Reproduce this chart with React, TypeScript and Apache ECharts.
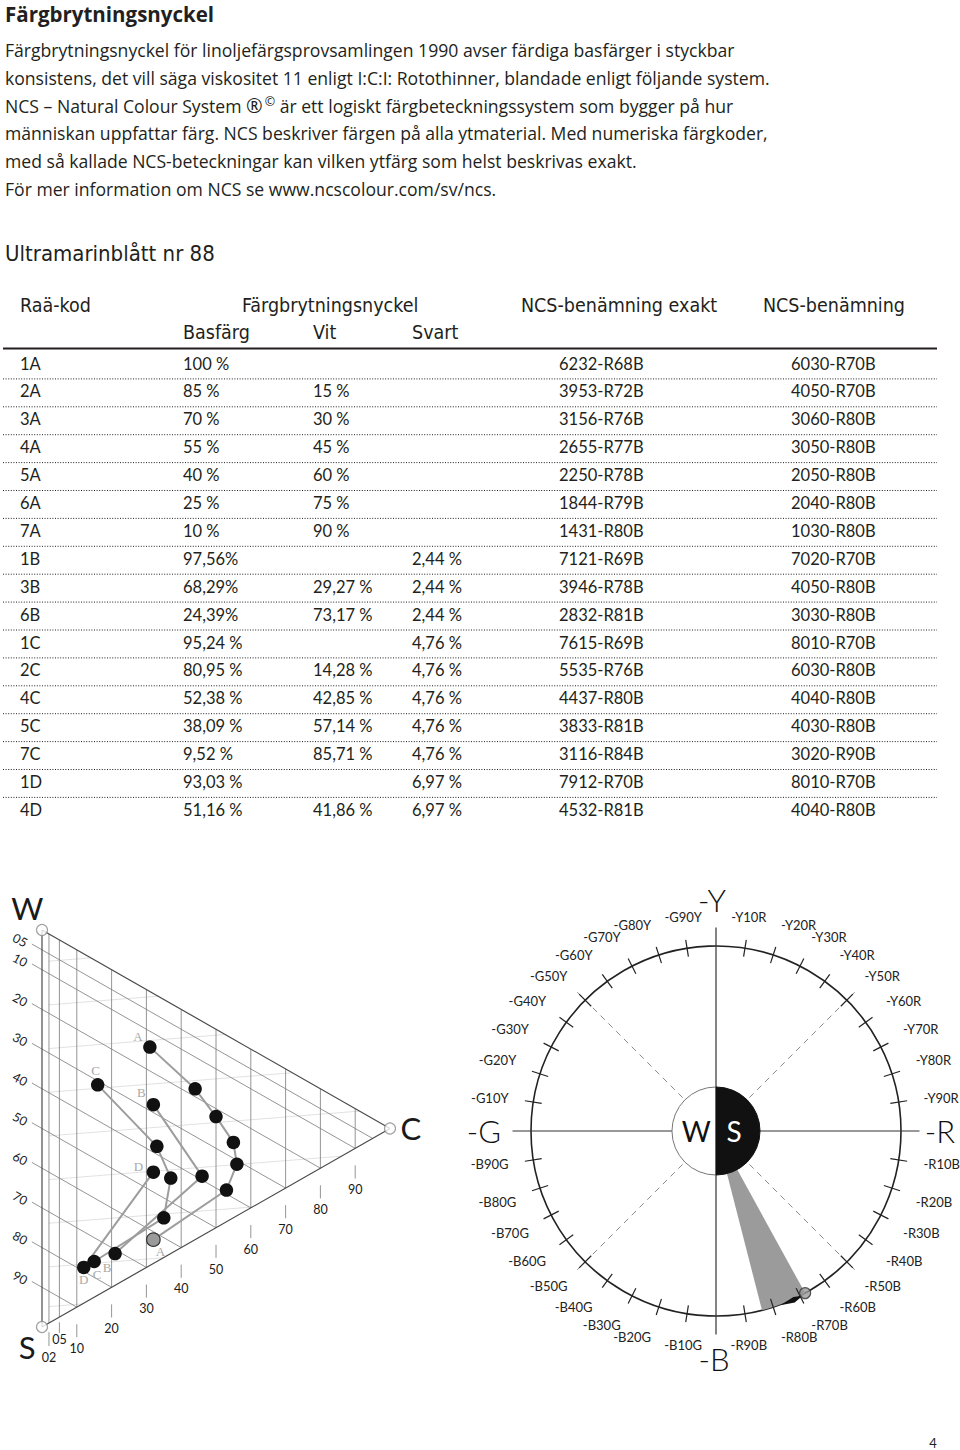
import React, { useEffect, useRef } from 'react';
import * as echarts from 'echarts';

// ---------------- data ----------------
const TITLE = 'Färgbrytningsnyckel';
const INTRO_LINES = [
  'Färgbrytningsnyckel för linoljefärgsprovsamlingen 1990 avser färdiga basfärger i styckbar',
  'konsistens, det vill säga viskositet 11 enligt I:C:I: Rotothinner, blandade enligt följande system.',
  'NCS – Natural Colour System {r|®}{c|©} är ett logiskt färgbeteckningssystem som bygger på hur',
  'människan uppfattar färg. NCS beskriver färgen på alla ytmaterial. Med numeriska färgkoder,',
  'med så kallade NCS-beteckningar kan vilken ytfärg som helst beskrivas exakt.',
  'För mer information om NCS se www.ncscolour.com/sv/ncs.',
];
const SUBTITLE = 'Ultramarinblått nr 88';
const HEADER_TOP = ['Raä-kod', 'Färgbrytningsnyckel', 'NCS-benämning exakt', 'NCS-benämning'];
const HEADER_SUB = ['Basfärg', 'Vit', 'Svart'];

const codes = ['1A', '2A', '3A', '4A', '5A', '6A', '7A', '1B', '3B', '6B', '1C', '2C', '4C', '5C', '7C', '1D', '4D'];
const basfarg = ['100 %', '85 %', '70 %', '55 %', '40 %', '25 %', '10 %', '97,56%', '68,29%', '24,39%', '95,24 %', '80,95 %', '52,38 %', '38,09 %', '9,52 %', '93,03 %', '51,16 %'];
const vit = ['', '15 %', '30 %', '45 %', '60 %', '75 %', '90 %', '', '29,27 %', '73,17 %', '', '14,28 %', '42,85 %', '57,14 %', '85,71 %', '', '41,86 %'];
const svart = ['', '', '', '', '', '', '', '2,44 %', '2,44 %', '2,44 %', '4,76 %', '4,76 %', '4,76 %', '4,76 %', '4,76 %', '6,97 %', '6,97 %'];
const ncsExakt = ['6232-R68B', '3953-R72B', '3156-R76B', '2655-R77B', '2250-R78B', '1844-R79B', '1431-R80B', '7121-R69B', '3946-R78B', '2832-R81B', '7615-R69B', '5535-R76B', '4437-R80B', '3833-R81B', '3116-R84B', '7912-R70B', '4532-R81B'];
const ncsNamn = ['6030-R70B', '4050-R70B', '3060-R80B', '3050-R80B', '2050-R80B', '2040-R80B', '1030-R80B', '7020-R70B', '4050-R80B', '3030-R80B', '8010-R70B', '6030-R80B', '4040-R80B', '4030-R80B', '3020-R90B', '8010-R70B', '4040-R80B'];

const GROUPS = ['A', 'B', 'C', 'D'];
const BLACK_TICKS = ['05', '10', '20', '30', '40', '50', '60', '70', '80', '90'];
const CHROMA_TICKS = ['02', '05', '10', '20', '30', '40', '50', '60', '70', '80', '90'];
const TRI_VERTICES = ['W', 'S', 'C'];
// faint perspective lines of the triangle: start height on the W–S edge
const FAINT_LINE_STARTS = [8, 19, 30, 41, 52, 63, 74, 85, 95];

const HUE_LABELS = [
  '-Y10R', '-Y20R', '-Y30R', '-Y40R', '-Y50R', '-Y60R', '-Y70R', '-Y80R', '-Y90R',
  '-R10B', '-R20B', '-R30B', '-R40B', '-R50B', '-R60B', '-R70B', '-R80B', '-R90B',
  '-B10G', '-B20G', '-B30G', '-B40G', '-B50G', '-B60G', '-B70G', '-B80G', '-B90G',
  '-G10Y', '-G20Y', '-G30Y', '-G40Y', '-G50Y', '-G60Y', '-G70Y', '-G80Y', '-G90Y',
];
const MAIN_HUES = ['-Y', '-R', '-B', '-G'];
const PAGE_NUMBER = '4';

// ---------------- style / layout ----------------
const INK = '#231f20';
const BODY_FONT = '"Open Sans", Lato, sans-serif';
const TABLE_FONT = 'Lato, "Open Sans", sans-serif';
const NARROW_FONT = '"Liberation Sans Narrow", "DejaVu Sans Condensed", Lato, sans-serif';
const DIAG_FONT = 'Lato, "DejaVu Sans", sans-serif';
const SERIF_FONT = '"Liberation Serif", "DejaVu Serif", serif';

const TABLE_COLS = [20, 183, 313, 412, 559, 791];
const HEADER_TOP_X = [20, 242, 521, 763];
const HEADER_SUB_X = [183, 313, 412];
const ROW_Y0 = 363.5;
const ROW_STEP = 27.9;

// endpoint label offsets for each group: [first, last]
const GROUP_LABEL_OFFSETS: Record<string, number[][]> = {
  A: [[7, 12], [-12, -11]],
  B: [[-8, 14], [-12, -12]],
  C: [[3, 13], [-2, -14]],
  D: [[0, 12], [-15, -6]],
};
const MAIN_HUE_R = [125, 121, 123, 125.5];
const MAIN_HUE_DX = [-4, 0, -2, 0];

// ---------------- helpers ----------------
const HUE_BASE: Record<string, number> = { Y: 0, R: 100, B: 200, G: 300 };
function parseNcs(code: string) {
  const m = /^(\d\d)(\d\d)-([YRBG])(\d\d)([YRBG])$/.exec(code);
  if (!m) return { s: 0, c: 0, hue: 0 };
  return { s: Number(m[1]), c: Number(m[2]), hue: HUE_BASE[m[3]] + Number(m[4]) };
}
const hueOfLabel = (l: string) => HUE_BASE[l[1]] + (l.length > 2 ? Number(l.slice(2, 4)) : 0);
// triangle cartesian: x = chromaticness, y = blackness + chromaticness/2
const triPoint = (s: number, c: number) => [c, s + c / 2];

function buildOption() {
  const graphic: any[] = [];
  const txt = (x: number, y: number, text: string, o: any = {}) => {
    const style: any = {
      text,
      fill: o.fill || INK,
      fontSize: o.size || 17,
      fontFamily: o.family || BODY_FONT,
      fontWeight: o.weight || 'normal',
      textAlign: o.align || 'left',
      align: o.align || 'left',
      textVerticalAlign: 'middle',
      verticalAlign: 'middle',
    };
    if (o.rich) style.rich = o.rich;
    graphic.push({ type: 'text', x, y, silent: true, z: 10, style });
  };
  const hline = (y: number, width: number, dash?: number[]) => {
    graphic.push({
      type: 'line', silent: true, z: 9,
      shape: { x1: 3, y1: y, x2: 937, y2: y },
      style: { stroke: INK, lineWidth: width, lineDash: dash || null },
    });
  };

  txt(5, 14, TITLE, { size: 20.5, weight: 'bold' });
  INTRO_LINES.forEach((l, i) =>
    txt(5, 50 + i * 27.8, l, {
      size: 17.6,
      rich: {
        r: { fontSize: 20, fontFamily: BODY_FONT, fill: INK },
        c: { fontSize: 12.5, fontFamily: BODY_FONT, fill: INK, padding: [0, 0, 9, 2] },
      },
    })
  );
  txt(5, 253, SUBTITLE, { size: 22, family: NARROW_FONT });
  HEADER_TOP.forEach((h, i) => txt(HEADER_TOP_X[i], 305, h, { size: 19.5, family: NARROW_FONT }));
  HEADER_SUB.forEach((h, i) => txt(HEADER_SUB_X[i], 332, h, { size: 19.5, family: NARROW_FONT }));
  hline(348.5, 2);
  const cols = [codes, basfarg, vit, svart, ncsExakt, ncsNamn];
  codes.forEach((_, r) => {
    const y = ROW_Y0 + r * ROW_STEP;
    cols.forEach((col, ci) => {
      if (col[r]) txt(TABLE_COLS[ci], y, col[r], { size: 16.5, family: TABLE_FONT });
    });
    if (r < codes.length - 1) hline(y + 15.4, 1, [1, 1.6]);
  });
  txt(933, 1443, PAGE_NUMBER, { size: 13, align: 'center', family: TABLE_FONT });

  // ---------- triangle ----------
  const gridSegs: number[][] = [];
  CHROMA_TICKS.forEach((t) => {
    const c = Number(t);
    gridSegs.push([c, c / 2, c, 100 - c / 2]);
  });
  BLACK_TICKS.forEach((t) => {
    const s = Number(t);
    gridSegs.push([-2.9, s - 1.45, 100 - s, s + (100 - s) / 2]);
  });
  const faintSegs = FAINT_LINE_STARTS.map((y0) => {
    const k = -0.07; // yv per unit of c
    const cTop = y0 / (0.5 - k);
    const cBot = (100 - y0) / (0.5 + k);
    const cEnd = Math.min(cTop, cBot, 96);
    return [2, y0 + k * 2, cEnd, y0 + k * cEnd];
  });
  const edgeSegs = [
    [0, 0, 100, 50],
    [100, 50, 0, 100],
    [0, 100, 0, 0],
  ];
  const tickSegs = CHROMA_TICKS.map((t) => {
    const c = Number(t);
    const e = 100 - c / 2;
    const [g1, g2] = c === 2 ? [2.3, 5.8] : c === 5 ? [1.3, 4.0] : [4.3, 7.6];
    return [c, e + g1, c, e + g2];
  });
  const triTexts: any[] = [];
  BLACK_TICKS.forEach((t) => triTexts.push({ x: -6.3, y: Number(t) - 2.4, text: t, size: 12.5, rot: -0.5 }));
  CHROMA_TICKS.forEach((t) => {
    const c = Number(t);
    const off = c === 2 ? 8.6 : c === 5 ? 5.6 : 10.4;
    triTexts.push({ x: c, y: 100 - c / 2 + off, text: t, size: 12.5, rot: 0 });
  });
  const vertexPos: Record<string, number[]> = { W: [-4.2, -5.5], S: [-4.3, 105], C: [106, 49.9] };
  TRI_VERTICES.forEach((v) => triTexts.push({ x: vertexPos[v][0], y: vertexPos[v][1], text: v, size: 31, rot: 0, weight: 'normal' }));

  const segSeries = (data: number[][], color: string, width: number, z: number) => ({
    type: 'custom', coordinateSystem: 'cartesian2d', xAxisIndex: 0, yAxisIndex: 0, silent: true, z,
    data,
    renderItem: (_p: any, api: any) => {
      const a = api.coord([api.value(0), api.value(1)]);
      const b = api.coord([api.value(2), api.value(3)]);
      return { type: 'line', shape: { x1: a[0], y1: a[1], x2: b[0], y2: b[1] }, style: { stroke: color, lineWidth: width } };
    },
  });

  const groupSeries = GROUPS.map((g) => {
    const idx = codes.map((k, i) => (k.endsWith(g) ? i : -1)).filter((i) => i >= 0);
    return {
      type: 'line', name: g, xAxisIndex: 0, yAxisIndex: 0, z: 5, silent: true,
      symbol: 'circle', symbolSize: 13.5, showSymbol: true,
      lineStyle: { color: '#9d9d9d', width: 2 },
      itemStyle: { color: '#111' },
      data: idx.map((i, j) => {
        const { s, c } = parseNcs(ncsExakt[i]);
        const item: any = { value: triPoint(s, c) };
        if (g === 'A' && j === 0) item.itemStyle = { color: '#9a9a9a', borderColor: '#333', borderWidth: 1.2 };
        const which = j === 0 ? 0 : j === idx.length - 1 ? 1 : -1;
        if (which >= 0) {
          item.label = {
            show: true, position: 'inside', offset: GROUP_LABEL_OFFSETS[g][which], formatter: g,
            color: '#a9a9a9', fontFamily: SERIF_FONT, fontSize: 13,
          };
        }
        return item;
      }),
    };
  });

  // ---------- hue circle ----------
  const hues = ncsExakt.map((k) => parseNcs(k).hue);
  const hueMin = Math.min(...hues);
  const hueMax = Math.max(...hues);
  const hue1A = parseNcs(ncsExakt[0]).hue;
  const polarLine = (r1: number, r2: number, color: string, width: number, dash: number[] | null, z: number, data: number[][]) => ({
    type: 'custom', coordinateSystem: 'polar', polarIndex: 0, silent: true, z, data,
    renderItem: (_p: any, api: any) => {
      const h = api.value(1);
      const a = api.coord([r1, h]);
      const b = api.coord([r2, h]);
      return { type: 'line', shape: { x1: a[0], y1: a[1], x2: b[0], y2: b[1] }, style: { stroke: color, lineWidth: width, lineDash: dash } };
    },
  });

  const labelAt = (v: number) => {
    const q = Math.floor(v / 100);
    const k = Math.round((v % 100) / 10);
    if (k === 0 || q > 3) return '';
    return HUE_LABELS[q * 9 + k - 1];
  };

  return {
    animation: false,
    backgroundColor: '#ffffff',
    graphic,
    grid: { left: 7.2, top: 890.3, width: 417.6, height: 476.4, containLabel: false, outerBoundsMode: 'none' },
    xAxis: { type: 'value', min: -10, max: 110, show: false },
    yAxis: { type: 'value', min: -10, max: 110, inverse: true, show: false },
    polar: { center: [716, 1131], radius: 185 },
    angleAxis: {
      type: 'value', min: 0, max: 400, interval: 10, startAngle: 90, clockwise: true, polarIndex: 0,
      axisLine: { show: true, lineStyle: { color: '#222', width: 1.6 } },
      axisTick: { show: false },
      splitLine: { show: false },
      axisLabel: { show: true, margin: 25, color: '#222', fontSize: 13, fontFamily: DIAG_FONT, formatter: (v: number) => labelAt(v) },
    },
    radiusAxis: {
      type: 'value', min: 0, max: 100, polarIndex: 0,
      axisLine: { show: false }, axisTick: { show: false }, axisLabel: { show: false }, splitLine: { show: false },
    },
    series: [
      segSeries(faintSegs, '#e2e2e2', 1, 0),
      segSeries(gridSegs, '#7a7a7a', 0.8, 1),
      segSeries(edgeSegs, '#4a4a4a', 1.2, 2),
      segSeries(tickSegs, '#7a7a7a', 0.8, 2),
      {
        type: 'custom', coordinateSystem: 'cartesian2d', xAxisIndex: 0, yAxisIndex: 0, silent: true, z: 3,
        data: triTexts.map((t) => [t.x, t.y]),
        renderItem: (p: any, api: any) => {
          const t = triTexts[p.dataIndex];
          const pt = api.coord([api.value(0), api.value(1)]);
          return {
            type: 'text', x: pt[0], y: pt[1], rotation: t.rot,
            style: {
              text: t.text, fill: '#1a1a1a', fontSize: t.size, fontFamily: DIAG_FONT, fontWeight: t.weight || 'normal',
              textAlign: 'center', align: 'center', textVerticalAlign: 'middle', verticalAlign: 'middle',
            },
          };
        },
      },
      ...groupSeries,
      {
        type: 'scatter', xAxisIndex: 0, yAxisIndex: 0, silent: true, z: 6,
        symbolSize: 11,
        itemStyle: { color: '#ffffff', borderColor: '#8a8a8a', borderWidth: 1.2 },
        data: [triPoint(0, 0), triPoint(100, 0), triPoint(0, 100)],
      },
      // wedge
      {
        type: 'custom', coordinateSystem: 'polar', polarIndex: 0, silent: true, z: 1,
        data: [[100, hueMin]],
        renderItem: (_p: any, api: any) => {
          const pts: number[][] = [api.coord([23.5, hueMin])];
          for (let k = 0; k <= 8; k++) pts.push(api.coord([100, hueMin + ((hueMax - hueMin) * k) / 8]));
          pts.push(api.coord([23.5, hueMax]));
          return { type: 'polygon', shape: { points: pts }, style: { fill: '#9b9b9b' } };
        },
      },
      polarLine(0, 110, '#333', 1.2, null, 2, MAIN_HUES.map((l) => [0, hueOfLabel(l)])),
      polarLine(25.5, 108, '#8a8a8a', 1, [6, 5], 2, HUE_LABELS.filter((l) => l.slice(2, 4) === '50').map((l) => [100, hueOfLabel(l)])),
      polarLine(95.4, 104.6, '#222', 1.2, null, 3, HUE_LABELS.map((l) => [100, hueOfLabel(l)])),
      // centre circle W / S
      {
        type: 'custom', coordinateSystem: 'polar', polarIndex: 0, silent: true, z: 5,
        data: [[0, 0]],
        renderItem: (_p: any, api: any) => {
          const c = api.coord([0, 0]);
          const e = api.coord([23.8, 0]);
          const r = Math.hypot(e[0] - c[0], e[1] - c[1]);
          return {
            type: 'group',
            children: [
              { type: 'sector', shape: { cx: c[0], cy: c[1], r0: 0, r, startAngle: Math.PI / 2, endAngle: (3 * Math.PI) / 2, clockwise: true }, style: { fill: '#fff', stroke: '#777', lineWidth: 1 } },
              { type: 'sector', shape: { cx: c[0], cy: c[1], r0: 0, r, startAngle: -Math.PI / 2, endAngle: Math.PI / 2, clockwise: true }, style: { fill: '#111', stroke: '#111', lineWidth: 1 } },
              { type: 'text', x: c[0] - r * 0.45, y: c[1], style: { text: 'W', fill: '#111', fontSize: 28, fontFamily: DIAG_FONT, fontWeight: 'normal', textAlign: 'center', align: 'center', textVerticalAlign: 'middle', verticalAlign: 'middle' } },
              { type: 'text', x: c[0] + r * 0.41, y: c[1], style: { text: 'S', fill: '#fff', fontSize: 28, fontFamily: DIAG_FONT, fontWeight: 'normal', textAlign: 'center', align: 'center', textVerticalAlign: 'middle', verticalAlign: 'middle' } },
            ],
          };
        },
      },
      // arrow towards the 1A hue
      {
        type: 'custom', coordinateSystem: 'polar', polarIndex: 0, silent: true, z: 6,
        data: [[100, hue1A]],
        renderItem: (_p: any, api: any) => {
          const pts = [api.coord([100.4, hue1A + 9.5]), api.coord([99.0, hue1A + 4.2]), api.coord([100.6, hue1A + 1.2]), api.coord([102.0, hue1A + 4.6])];
          return { type: 'polygon', shape: { points: pts }, style: { fill: '#111' } };
        },
      },
      {
        type: 'scatter', coordinateSystem: 'polar', polarIndex: 0, silent: true, z: 7,
        symbolSize: 11,
        itemStyle: { color: '#9a9a9a', borderColor: '#333', borderWidth: 1.2 },
        data: [[100, hue1A]],
      },
      // main hue labels
      {
        type: 'custom', coordinateSystem: 'polar', polarIndex: 0, silent: true, z: 6,
        data: MAIN_HUES.map((l, i) => [MAIN_HUE_R[i], hueOfLabel(l)]),
        renderItem: (p: any, api: any) => {
          const pt = api.coord([api.value(0), api.value(1)]);
          const label = MAIN_HUES[p.dataIndex];
          return {
            type: 'text', x: pt[0] + MAIN_HUE_DX[p.dataIndex], y: pt[1],
            style: { text: label, fill: '#111', fontSize: 31, fontFamily: DIAG_FONT, fontWeight: 300, textAlign: 'center', align: 'center', textVerticalAlign: 'middle', verticalAlign: 'middle' },
          };
        },
      },
    ],
  };
}

export default function App() {
  const ref = useRef<HTMLDivElement>(null);
  useEffect(() => {
    if (!ref.current) return;
    const chart = echarts.init(ref.current, undefined, { renderer: 'svg' });
    chart.setOption(buildOption() as any);
    return () => chart.dispose();
  }, []);
  return <div ref={ref} style={{ position: 'absolute', left: 0, top: 0, width: 960, height: 1450, background: '#fff' }} />;
}
